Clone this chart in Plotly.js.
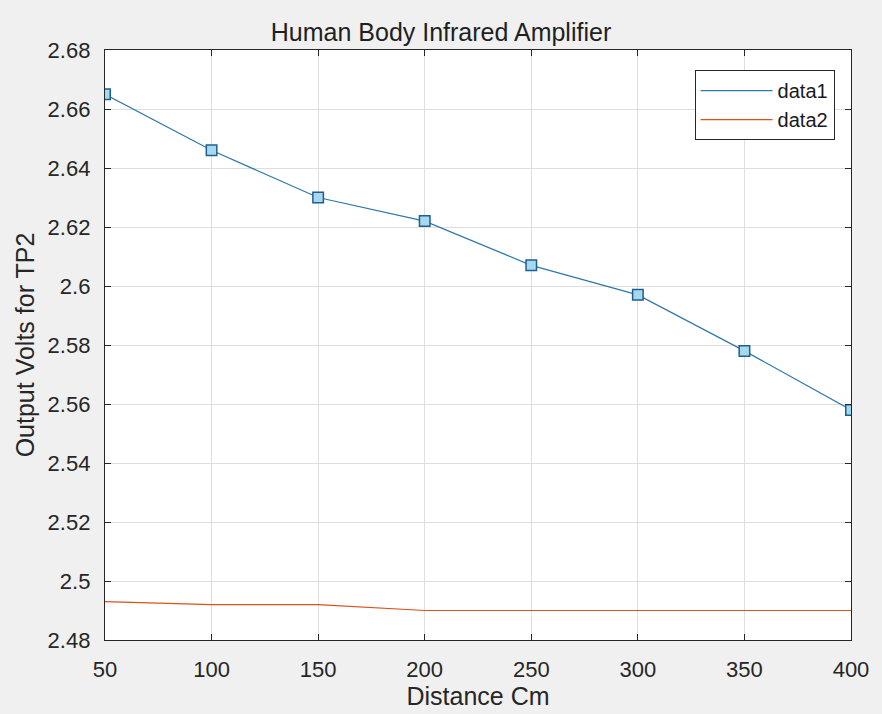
<!DOCTYPE html>
<html>
<head>
<meta charset="utf-8">
<script src="https://cdn.plot.ly/plotly-3.0.1.min.js"></script>
<style>html,body{margin:0;padding:0;background:#f0f0f0;}#chart{width:882px;height:714px;}</style>
</head>
<body>
<div id="chart"></div>
<script>
const distances = [50, 100, 150, 200, 250, 300, 350, 400];
const data1 = [2.665, 2.646, 2.630, 2.622, 2.607, 2.597, 2.578, 2.558];
const data2 = [2.493, 2.492, 2.492, 2.490, 2.490, 2.490, 2.490, 2.490];
const xTicks = [50, 100, 150, 200, 250, 300, 350, 400];
const yTicks = [2.48, 2.5, 2.52, 2.54, 2.56, 2.58, 2.6, 2.62, 2.64, 2.66, 2.68];
const yTickText = ['2.48', '2.5', '2.52', '2.54', '2.56', '2.58', '2.6', '2.62', '2.64', '2.66', '2.68'];

const traces = [
  {x: distances, y: data1, name: 'data1', type: 'scatter', mode: 'lines',
   line: {color: '#2f78a8', width: 1.2}, legendrank: 1},
  {x: distances, y: data1, name: 'data1', type: 'scatter', mode: 'markers', showlegend: false,
   marker: {symbol: 'square', size: 10.5, color: '#a6d8f0', line: {color: '#1f5f8f', width: 1.5}}},
  {x: distances, y: data2, name: 'data2', type: 'scatter', mode: 'lines',
   line: {color: '#D95319', width: 1.2}, legendrank: 2}
];

const axisCommon = {
  showline: true, linecolor: '#262626', linewidth: 1.2, mirror: 'ticks',
  ticks: 'inside', ticklen: 6, tickcolor: '#262626', ticklabelstandoff: 9,
  showgrid: true, gridcolor: '#dedede', gridwidth: 1, zeroline: false, automargin: false,
  tickfont: {family: 'Liberation Sans, Arial, sans-serif', size: 22, color: '#262626'}
};

const layout = {
  width: 882, height: 714,
  paper_bgcolor: '#f0f0f0', plot_bgcolor: '#ffffff',
  margin: {l: 105, r: 31, t: 50, b: 74},
  font: {family: 'Liberation Sans, Arial, sans-serif', color: '#262626'},
  title: {text: 'Human Body Infrared Amplifier', font: {size: 25, color: '#1f1f1f'}, x: 0.5, xanchor: 'center', y: 0.955, yanchor: 'middle'},
  xaxis: Object.assign({}, axisCommon, {
    range: [50, 400], tickvals: xTicks, ticktext: xTicks.map(String),
    title: {text: 'Distance Cm', font: {size: 25, color: '#262626'}, standoff: 0}
  }),
  yaxis: Object.assign({}, axisCommon, {
    range: [2.48, 2.68], tickvals: yTicks, ticktext: yTickText,
    title: {text: 'Output Volts for TP2', font: {size: 25, color: '#262626'}, standoff: 5}
  }),
  showlegend: true,
  legend: {x: 0.978, xanchor: 'right', y: 0.966, yanchor: 'top',
    bgcolor: '#ffffff', bordercolor: '#262626', borderwidth: 1,
    font: {size: 20, color: '#1a1a1a'}, tracegroupgap: 0, itemwidth: 72}
};

Plotly.newPlot('chart', traces, layout, {displayModeBar: false, staticPlot: true});
</script>
</body>
</html>
